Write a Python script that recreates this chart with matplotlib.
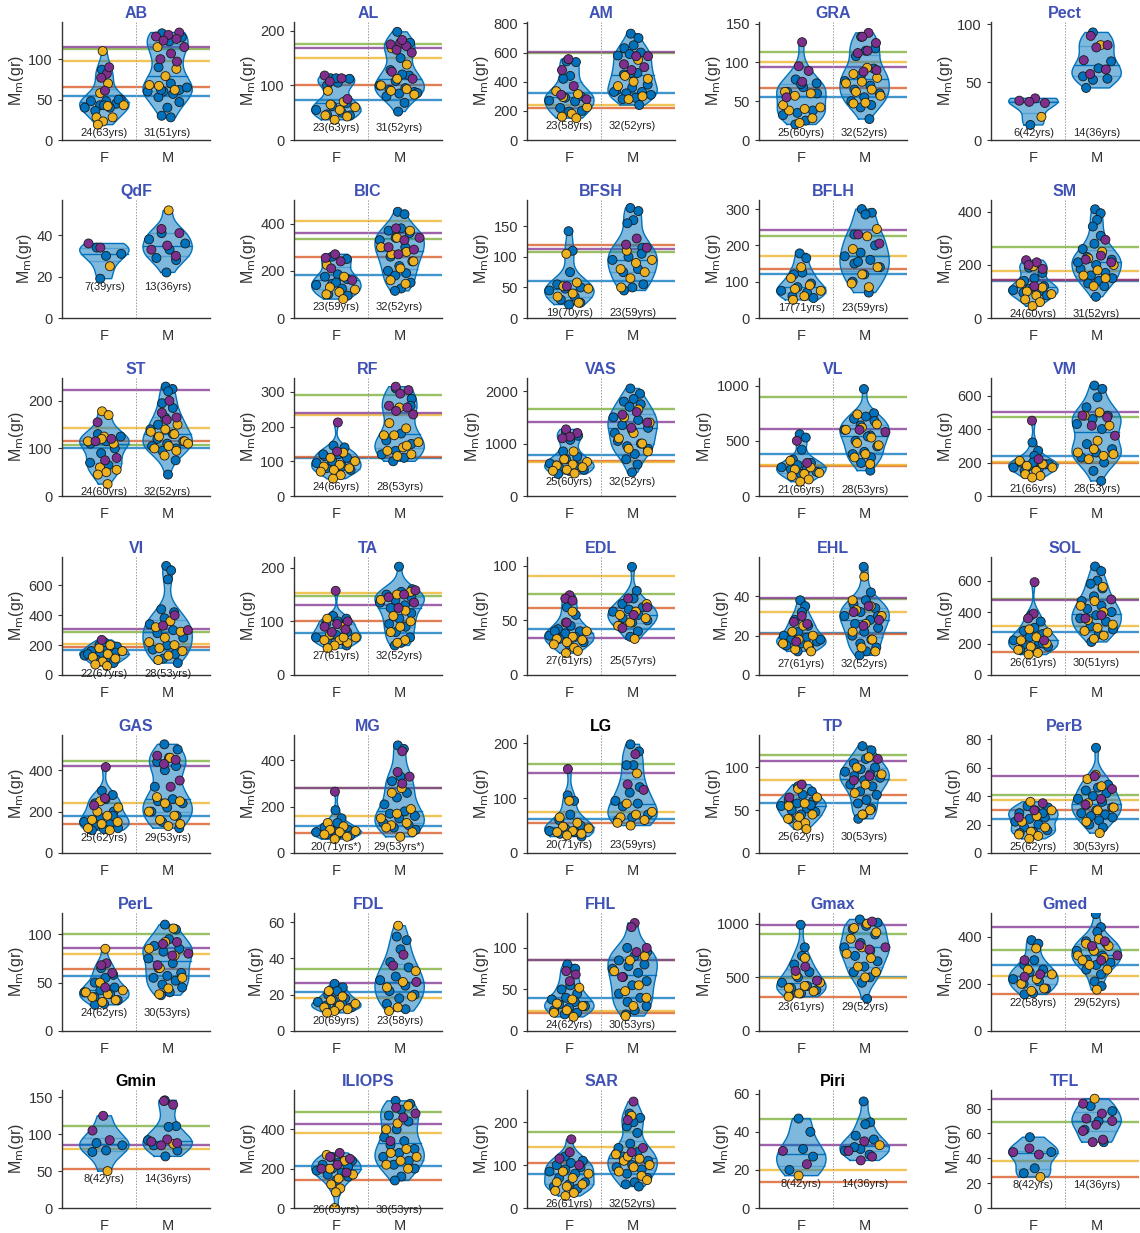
import numpy as np
import matplotlib
matplotlib.use("Agg")
import matplotlib.pyplot as plt

plt.rcParams['font.family'] = ['Liberation Sans', 'DejaVu Sans']

# ---------------- layout order ----------------
MUSCLES = ["AB", "AL", "AM", "GRA", "Pect",
           "QdF", "BIC", "BFSH", "BFLH", "SM",
           "ST", "RF", "VAS", "VL", "VM",
           "VI", "TA", "EDL", "EHL", "SOL",
           "GAS", "MG", "LG", "TP", "PerB",
           "PerL", "FDL", "FHL", "Gmax", "Gmed",
           "Gmin", "ILIOPS", "SAR", "Piri", "TFL"]
BLACK_TITLES = ["LG", "Gmin", "Piri"]
GROUPS = ["F", "M"]

YTOP = {"AB": 146, "AL": 216, "AM": 810, "GRA": 152, "Pect": 102,
        "QdF": 57, "BIC": 500, "BFSH": 193, "BFLH": 325, "SM": 445,
        "ST": 248, "RF": 340, "VAS": 2250, "VL": 1070, "VM": 705,
        "VI": 790, "TA": 220, "EDL": 108, "EHL": 60, "SOL": 750,
        "GAS": 570, "MG": 510, "LG": 215, "TP": 138, "PerB": 83,
        "PerL": 122, "FDL": 65, "FHL": 142, "Gmax": 1100, "Gmed": 500,
        "Gmin": 160, "ILIOPS": 600, "SAR": 275, "Piri": 62, "TFL": 95}

YTICKS = {"AB": [0, 50, 100], "AL": [0, 100, 200], "AM": [0, 200, 400, 600, 800],
          "GRA": [0, 50, 100, 150], "Pect": [0, 50, 100],
          "QdF": [0, 20, 40], "BIC": [0, 200, 400], "BFSH": [0, 50, 100, 150],
          "BFLH": [0, 100, 200, 300], "SM": [0, 200, 400],
          "ST": [0, 100, 200], "RF": [0, 100, 200, 300], "VAS": [0, 1000, 2000],
          "VL": [0, 500, 1000], "VM": [0, 200, 400, 600],
          "VI": [0, 200, 400, 600], "TA": [0, 100, 200], "EDL": [0, 50, 100],
          "EHL": [0, 20, 40], "SOL": [0, 200, 400, 600],
          "GAS": [0, 200, 400], "MG": [0, 200, 400], "LG": [0, 100, 200],
          "TP": [0, 50, 100], "PerB": [0, 20, 40, 60, 80],
          "PerL": [0, 50, 100], "FDL": [0, 20, 40, 60], "FHL": [0, 50, 100],
          "Gmax": [0, 500, 1000], "Gmed": [0, 200, 400],
          "Gmin": [0, 50, 100, 150], "ILIOPS": [0, 200, 400], "SAR": [0, 100, 200],
          "Piri": [0, 20, 40, 60], "TFL": [0, 20, 40, 60, 80]}

COUNT_LABELS = {
    "AB": ("24(63yrs)", "31(51yrs)"), "AL": ("23(63yrs)", "31(52yrs)"),
    "AM": ("23(58yrs)", "32(52yrs)"), "GRA": ("25(60yrs)", "32(52yrs)"),
    "Pect": ("6(42yrs)", "14(36yrs)"),
    "QdF": ("7(39yrs)", "13(36yrs)"), "BIC": ("23(59yrs)", "32(52yrs)"),
    "BFSH": ("19(70yrs)", "23(59yrs)"), "BFLH": ("17(71yrs)", "23(59yrs)"),
    "SM": ("24(60yrs)", "31(52yrs)"),
    "ST": ("24(60yrs)", "32(52yrs)"), "RF": ("24(66yrs)", "28(53yrs)"),
    "VAS": ("25(60yrs)", "32(52yrs)"), "VL": ("21(66yrs)", "28(53yrs)"),
    "VM": ("21(66yrs)", "28(53yrs)"),
    "VI": ("22(67yrs)", "28(53yrs)"), "TA": ("27(61yrs)", "32(52yrs)"),
    "EDL": ("27(61yrs)", "25(57yrs)"), "EHL": ("27(61yrs)", "32(52yrs)"),
    "SOL": ("26(61yrs)", "30(51yrs)"),
    "GAS": ("25(62yrs)", "29(53yrs)"), "MG": ("20(71yrs*)", "29(53yrs*)"),
    "LG": ("20(71yrs)", "23(59yrs)"), "TP": ("25(62yrs)", "30(53yrs)"),
    "PerB": ("25(62yrs)", "30(53yrs)"),
    "PerL": ("24(62yrs)", "30(53yrs)"), "FDL": ("20(69yrs)", "23(58yrs)"),
    "FHL": ("24(62yrs)", "30(53yrs)"), "Gmax": ("23(61yrs)", "29(52yrs)"),
    "Gmed": ("22(58yrs)", "29(52yrs)"),
    "Gmin": ("8(42yrs)", "14(36yrs)"), "ILIOPS": ("26(63yrs)", "30(53yrs)"),
    "SAR": ("26(61yrs)", "32(52yrs)"), "Piri": ("8(42yrs)", "14(36yrs)"),
    "TFL": ("8(42yrs)", "14(36yrs)")}

# reference lines: [blue, red, yellow, green, purple]
REF_LINES = {
    "AB": [54, 66, 98, 113, 115], "AL": [74, 100, 150, 175, 169],
    "AM": [320, 220, 240, 598, 605], "GRA": [55, 67, 100, 113, 94],
    "Pect": [None] * 5,
    "QdF": [None] * 5, "BIC": [182, 258, 410, 335, 360],
    "BFSH": [60, 120, None, 108, 113], "BFLH": [120, 135, 170, 225, 243],
    "SM": [140, 145, 178, 268, 142],
    "ST": [100, 115, 142, 108, 222], "RF": [110, 113, 232, 292, 238],
    "VAS": [790, 670, 650, 1660, 1420], "VL": [380, 275, 280, 900, 610],
    "VM": [240, 198, 202, 470, 500],
    "VI": [170, 185, 205, 290, 310], "TA": [79, 101, 153, 147, 130],
    "EDL": [42, 61, 91, 74, 34], "EHL": [21.5, 21, 32, 38.5, 39],
    "SOL": [275, 145, 310, 480, 478],
    "GAS": [178, 142, 240, 443, 420], "MG": [115, 85, 160, 280, 279],
    "LG": [62, 54, 75, 163, 145], "TP": [59, 68, 85, 115, 108],
    "PerB": [24, 30, 37, 41, 54],
    "PerL": [57, 64, 80, 100, 86], "FDL": [21.5, None, 18, 34, 26.5],
    "FHL": [40, 22, 24, 85, 86], "Gmax": [500, 320, 490, 905, 990],
    "Gmed": [278, 155, 232, 345, 440],
    "Gmin": [None, 53, 80, 111, 86], "ILIOPS": [215, 140, 380, 490, 425],
    "SAR": [80, 105, 142, 178, None], "Piri": [None, 13.5, 20, 47, 33],
    "TFL": [None, 25, 38, 69, 88]}

# point values per muscle and sex: (blue, orange, purple)
AB = {"F": ([87, 50, 48, 48, 45, 43, 40, 40, 36, 50, 43], [110, 70, 58, 43, 42, 28, 28, 23, 19], [82, 77, 90, 61]),
      "M": ([132, 127, 122, 90, 62, 60, 60, 57, 53, 47, 40, 30, 28, 62, 65, 70], [115, 88, 79, 68, 62, 67], [133, 130, 128, 125, 123, 115, 107, 100, 97])}
AL = {"F": ([113, 112, 105, 100, 67, 62, 55, 50, 47, 45, 113], [90, 70, 65, 60, 55, 45, 43, 37], [118, 113, 107, 75]),
      "M": ([198, 178, 150, 128, 118, 108, 100, 95, 92, 88, 85, 80, 68, 52, 86, 120], [168, 138, 112, 100, 93, 90, 83], [178, 175, 172, 165, 160, 183, 125, 112])}
AM = {"F": ([540, 535, 440, 420, 300, 290, 270, 265, 220, 200, 195], [335, 315, 295, 225, 180, 160, 150], [555, 480, 370, 310, 280]),
      "M": ([730, 700, 650, 630, 600, 590, 580, 460, 450, 380, 360, 340, 330, 320, 310, 290, 280, 240, 460, 330], [550, 440, 420, 400, 370, 300, 280], [575, 575, 520, 500, 480])}
GRA = {"F": ([78, 73, 68, 62, 38, 35, 32, 25, 20, 60, 72], [62, 60, 57, 42, 40, 38, 28, 22, 45], [126, 95, 89, 75, 55]),
       "M": ([133, 118, 115, 108, 92, 83, 76, 70, 65, 60, 55, 50, 45, 42, 27], [93, 85, 80, 75, 73, 65, 62, 57, 48, 47], [138, 133, 125, 115, 112, 90, 88])}
Pect = {"F": ([13], [20], [36, 34, 32, 33]),
        "M": ([93, 68, 62, 55, 53, 52, 45], [82], [90, 82, 80, 69, 61, 57])}
QdF = {"F": ([34, 31, 30, 19], [25], [34, 36]),
       "M": ([41, 36, 33, 29, 28, 22, 38], [52], [43, 41, 35, 33, 30])}
BIC = {"F": ([260, 250, 185, 175, 165, 145, 140, 125, 100, 95, 150], [225, 175, 130, 120, 110, 100, 80], [270, 255, 240, 210, 160]),
       "M": ([450, 440, 380, 370, 360, 340, 330, 300, 260, 240, 220, 200, 190, 180, 150, 125, 115], [370, 340, 300, 280, 270, 240, 210, 160, 145], [380, 340, 330, 300, 290, 270])}
BFSH = {"F": ([142, 110, 75, 55, 50, 48, 45, 35, 30, 25, 22], [105, 58, 52, 48, 40, 35, 25], [52]),
        "M": ([180, 175, 160, 155, 115, 100, 95, 80, 75, 55, 50, 45, 105], [110, 95, 90, 80, 75, 65, 50], [130, 120, 115])}
BFLH = {"F": ([178, 165, 125, 120, 95, 85, 75, 70, 60, 55], [140, 110, 90, 80, 75, 60, 50], []),
        "M": ([300, 290, 285, 230, 200, 180, 170, 160, 150, 140, 120, 100, 70, 155], [245, 225, 190, 140, 120, 95, 85], [230, 205])}
SM = {"F": ([190, 170, 150, 140, 120, 110, 105, 100, 95, 85], [195, 130, 115, 100, 90, 85, 70, 60, 45], [218, 210, 200, 185, 120]),
      "M": ([410, 395, 370, 345, 310, 280, 260, 240, 230, 220, 200, 185, 170, 160, 150, 140, 130, 120, 80, 210], [250, 225, 200, 180, 160, 150, 120], [295, 235, 220, 210])}
ST = {"F": ([130, 125, 115, 110, 100, 90, 70, 65], [178, 170, 125, 115, 110, 60, 55, 50, 45, 25, 120], [155, 120, 115, 80, 75]),
      "M": ([230, 225, 220, 195, 185, 165, 140, 130, 120, 115, 110, 105, 100, 95, 75, 45, 150], [150, 140, 135, 130, 125, 115, 105, 100, 95, 85, 110], [200, 175, 165, 160])}
RF = {"F": ([145, 140, 120, 115, 110, 100, 95, 85, 80, 75, 65, 120], [125, 110, 100, 90, 85, 80, 75, 70, 60, 50], [212, 128]),
      "M": ([310, 280, 180, 160, 150, 130, 120, 110, 100, 260], [255, 210, 195, 175, 155, 140, 130, 120, 115, 175, 145], [315, 305, 295, 260, 255, 245, 235])}
VAS = {"F": ([1230, 1150, 1070, 850, 750, 700, 620, 580, 550, 500, 480, 420], [850, 700, 650, 600, 580, 550, 500, 480, 430], [1270, 1200, 1130, 1100]),
       "M": ([2050, 1950, 1850, 1800, 1750, 1700, 1500, 1450, 1350, 1300, 1250, 1050, 1000, 950, 900, 800, 700, 600, 450, 1200], [1650, 1500, 1400, 1200, 1100, 1000, 900, 850], [1600, 1550, 1400, 1300])}
VL = {"F": ([560, 530, 420, 330, 300, 280, 260, 250, 240, 220, 200], [320, 260, 240, 210, 200, 180, 150, 130], [500, 300]),
      "M": ([970, 750, 720, 700, 680, 640, 600, 550, 500, 450, 400, 380, 350, 300, 230, 540], [740, 650, 620, 600, 530, 480, 460, 380, 350, 290], [600, 580])}
VM = {"F": ([320, 270, 240, 200, 190, 180, 170, 160, 150, 190, 200], [210, 190, 180, 170, 150, 130, 120, 110], [450, 220]),
      "M": ([660, 640, 590, 530, 480, 460, 430, 400, 310, 280, 260, 230, 200, 150, 90], [500, 480, 420, 280, 260, 240, 220, 250, 330], [480, 470, 420, 360])}
VI = {"F": ([200, 190, 170, 160, 150, 140, 130, 120, 100, 80, 220, 140], [200, 180, 160, 140, 120, 110, 90, 70, 60], [235]),
      "M": ([730, 700, 640, 440, 420, 380, 340, 300, 280, 250, 200, 170, 140, 110, 80], [360, 320, 290, 250, 220, 200, 180, 160, 130, 100], [400, 330, 300])}
TA = {"F": ([110, 105, 100, 95, 80, 75, 70, 65, 60, 55, 75], [105, 90, 75, 70, 65, 65, 60, 55, 50, 70], [157, 100, 95, 90, 85, 80]),
      "M": ([202, 160, 155, 150, 145, 140, 135, 130, 125, 115, 105, 95, 90, 80, 70, 60, 55], [155, 150, 140, 120, 110, 100, 90, 80, 65, 60], [158, 150, 145, 135, 125])}
EDL = {"F": ([62, 55, 45, 42, 40, 38, 36, 35, 33, 30, 28, 40], [58, 48, 40, 35, 33, 32, 30, 28, 25, 20, 22], [73, 70, 68, 48]),
       "M": ([99, 77, 70, 65, 62, 60, 58, 55, 52, 50, 48, 45, 40, 35], [65, 58, 55, 52, 48, 45, 33], [70, 62, 55, 43])}
EHL = {"F": ([38, 35, 32, 28, 25, 22, 20, 19, 18, 17, 16, 15, 14, 12, 18], [25, 22, 20, 18, 16, 15, 13, 12], [30, 27, 26, 17]),
       "M": ([55, 42, 38, 36, 34, 32, 30, 28, 26, 24, 22, 20, 18, 16, 14, 12, 10, 30], [50, 38, 35, 33, 30, 26, 22, 18, 14, 12], [35, 32, 28, 25])}
SOL = {"F": ([380, 340, 300, 280, 260, 240, 220, 200, 190, 180, 170, 160, 200], [290, 270, 240, 220, 200, 180, 160, 140, 130], [590, 390, 360, 220]),
       "M": ([690, 660, 600, 580, 550, 500, 470, 440, 420, 400, 380, 360, 340, 310, 290, 260, 210], [560, 470, 440, 400, 350, 320, 300, 280, 250, 230], [480, 380, 360])}
GAS = {"F": ([300, 280, 260, 240, 200, 170, 150, 140, 130, 120, 115, 110, 180], [250, 220, 180, 160, 150, 140, 120, 110, 200], [415, 265, 230]),
       "M": ([525, 500, 460, 440, 420, 400, 320, 260, 250, 240, 220, 200, 180, 150, 120], [460, 270, 250, 240, 200, 180, 160, 140, 130], [470, 450, 430, 350, 320])}
MG = {"F": ([185, 150, 130, 110, 100, 95, 90, 85, 80, 75, 70], [130, 115, 100, 95, 90, 80, 70, 60], [265]),
      "M": ([465, 450, 330, 310, 260, 240, 210, 180, 170, 160, 150, 130, 120, 110, 100], [280, 260, 190, 170, 150, 130, 120, 90, 70, 110], [440, 350, 330, 300])}
LG = {"F": ([105, 95, 70, 60, 50, 45, 40, 38, 35, 30], [95, 65, 55, 48, 45, 40, 38, 35, 32], [153]),
      "M": ([198, 185, 160, 160, 120, 110, 95, 90, 85, 70, 65, 60], [145, 90, 75, 70, 65, 60, 50, 55], [180, 125, 115])}
TP = {"F": ([78, 72, 68, 62, 60, 58, 55, 52, 50, 48, 45, 40, 56], [75, 65, 58, 55, 45, 42, 40, 35, 32, 28], [80, 65]),
      "M": ([125, 120, 110, 105, 100, 98, 95, 92, 90, 88, 85, 80, 78, 72, 68, 62, 58, 52, 45, 40], [112, 100, 92, 80, 70, 50, 45], [110, 90, 85])}
PerB = {"F": ([33, 32, 30, 28, 25, 24, 22, 20, 18, 16, 15, 14, 28], [36, 30, 26, 22, 18, 15, 13, 12, 10], [35, 30, 25]),
        "M": ([74, 48, 46, 44, 42, 40, 38, 36, 34, 32, 30, 28, 27, 26, 25, 23, 20, 18], [55, 52, 47, 35, 32, 30, 22, 14], [54, 45, 38, 34])}
PerL = {"F": ([65, 58, 55, 50, 45, 42, 40, 38, 35, 32, 28, 27], [85, 50, 42, 38, 35, 32, 30, 40], [70, 68, 60, 45]),
        "M": ([110, 105, 95, 88, 85, 82, 75, 70, 65, 60, 57, 55, 52, 48, 45, 40, 37], [106, 92, 85, 78, 65, 55, 44, 38], [92, 90, 80, 78, 68])}
FDL = {"F": ([26, 24, 22, 20, 18, 17, 16, 15, 14, 13, 12], [22, 19, 17, 15, 14, 13, 12, 11, 10], []),
       "M": ([52, 50, 45, 38, 35, 30, 28, 25, 22, 20, 18, 15, 12], [58, 33, 27, 24, 19, 13, 11], [42, 36, 27])}
FHL = {"F": ([80, 75, 55, 50, 45, 40, 38, 35, 32, 30, 28, 25, 22, 20], [52, 38, 33, 30, 25, 22, 17], [72, 68, 60]),
       "M": ([100, 95, 90, 85, 80, 78, 75, 70, 65, 60, 55, 45, 40, 35, 30, 25, 20], [90, 85, 72, 55, 48, 40, 30, 18], [130, 125, 100, 95, 65])}
Gmax = {"F": ([990, 780, 700, 620, 550, 500, 450, 420, 400, 380, 350, 330], [680, 520, 450, 420, 400, 370, 350, 320], [600, 560, 470]),
        "M": ([1040, 1010, 980, 950, 900, 820, 780, 750, 700, 650, 600, 550, 500, 450, 300], [1000, 960, 920, 780, 720, 680, 600, 550, 500, 860], [1020, 800, 780, 760])}
Gmed = {"F": ([385, 370, 300, 280, 260, 250, 220, 210, 200, 180, 160, 155], [350, 260, 240, 220, 200, 180, 170], [300, 240, 230]),
        "M": ([495, 440, 420, 380, 370, 350, 340, 320, 300, 290, 280, 260, 240, 210, 190], [390, 370, 360, 340, 320, 310, 280, 260, 175, 300], [380, 360, 320, 300])}
Gmin = {"F": ([88, 85, 78, 76], [50], [125, 105, 92]),
        "M": ([146, 111, 110, 85, 78, 70, 92], [87], [145, 140, 93, 90, 88, 85])}
ILIOPS = {"F": ([260, 240, 230, 220, 210, 200, 190, 180, 170, 160, 140], [270, 240, 200, 170, 150, 120, 100, 80, 0], [280, 260, 250, 220, 200, 180]),
          "M": ([545, 530, 500, 470, 440, 400, 360, 340, 320, 300, 280, 260, 240, 220, 200, 160, 140], [520, 430, 400, 300, 280, 260, 240, 220, 200], [510, 480, 460, 340])}
SAR = {"F": ([120, 110, 105, 100, 95, 90, 85, 80, 70, 60, 55, 50, 45], [85, 80, 70, 60, 55, 50, 40, 35, 28], [160, 130, 115, 100]),
       "M": ([220, 210, 200, 190, 175, 150, 140, 130, 120, 110, 100, 95, 90, 80, 70, 60, 55, 50], [215, 125, 115, 110, 100, 95, 85, 75, 120, 65], [248, 205, 140, 130])}
Piri = {"F": ([47, 40, 31, 20, 27], [17], [30, 23]),
        "M": ([56, 45, 44, 38, 36, 31, 30, 28, 32], [33], [35, 30, 27, 25])}
TFL = {"F": ([57, 45, 32, 28], [25], [48, 45, 43]),
       "M": ([82, 78, 70, 63, 53], [88], [84, 76, 72, 70, 67, 62, 55, 53])}

POINTS = {"AB": AB, "AL": AL, "AM": AM, "GRA": GRA, "Pect": Pect,
          "QdF": QdF, "BIC": BIC, "BFSH": BFSH, "BFLH": BFLH, "SM": SM,
          "ST": ST, "RF": RF, "VAS": VAS, "VL": VL, "VM": VM,
          "VI": VI, "TA": TA, "EDL": EDL, "EHL": EHL, "SOL": SOL,
          "GAS": GAS, "MG": MG, "LG": LG, "TP": TP, "PerB": PerB,
          "PerL": PerL, "FDL": FDL, "FHL": FHL, "Gmax": Gmax, "Gmed": Gmed,
          "Gmin": Gmin, "ILIOPS": ILIOPS, "SAR": SAR, "Piri": Piri, "TFL": TFL}

# ---------------- styles ----------------
C_BLUE = "#0072BD"
C_RED = "#D95319"
C_YEL = "#EDB120"
C_GRN = "#77AC30"
C_PUR = "#7E2F8E"
LINE_COLORS = [C_BLUE, C_RED, C_YEL, C_GRN, C_PUR]
TITLE_BLUE = "#3F51B5"

W_PX, H_PX = 1140, 1233
fig = plt.figure(figsize=(W_PX / 100, H_PX / 100), dpi=100)

COL_LEFT = [62, 294, 527, 759, 991]
ROW_BOTTOM = [140, 318, 496, 675, 853, 1031, 1208]
AX_W, AX_H = 148, 118
HALF_W = 0.39


def kde(vals, grid):
    vals = np.asarray(vals, float)
    n = len(vals)
    sd = vals.std(ddof=1) if n > 1 else 1.0
    bw = max(0.9 * sd * n ** (-1 / 5), 1e-6)
    d = np.exp(-0.5 * ((grid[:, None] - vals[None, :]) / bw) ** 2).sum(axis=1)
    return d


for idx, name in enumerate(MUSCLES):
    r, c = divmod(idx, 5)
    left = COL_LEFT[c] / W_PX
    bottom = 1 - ROW_BOTTOM[r] / H_PX
    ax = fig.add_axes([left, bottom, AX_W / W_PX, AX_H / H_PX])
    ytop = YTOP[name]
    ax.set_xlim(0.33, 2.67)
    ax.set_ylim(0, ytop)

    # reference lines
    for val, col in zip(REF_LINES[name], LINE_COLORS):
        if val is not None:
            ax.axhline(val, color=col, lw=1.7, alpha=0.75, zorder=1)
    ax.axvline(1.5, color="#9a9a9a", lw=0.7, ls=(0, (1.5, 1.5)), zorder=1)

    data = POINTS[name]
    all_vals = []
    for gi, g in enumerate(GROUPS):
        xpos = gi + 1
        blue, orange, purple = data[g]
        vals = np.array(list(blue) + list(orange) + list(purple), float)
        cols = [C_BLUE] * len(blue) + [C_YEL] * len(orange) + [C_PUR] * len(purple)
        all_vals.extend(vals.tolist())
        grid = np.linspace(vals.min(), vals.max(), 200)
        dens = kde(vals, grid)
        hw = dens / dens.max() * HALF_W
        ax.fill_betweenx(grid, xpos - hw, xpos + hw, facecolor=C_BLUE, alpha=0.5,
                         edgecolor="none", zorder=2)
        ax.plot(np.r_[xpos - hw, (xpos + hw)[::-1], xpos - hw[0]],
                np.r_[grid, grid[::-1], grid[0]], color=C_BLUE, lw=1.0, zorder=2.1)
        # quartiles and median
        q1, med, q3 = np.percentile(vals, [25, 50, 75])
        for q, a in ((q1, 0.35), (q3, 0.35), (med, 1.0)):
            w = np.interp(q, grid, hw)
            ax.plot([xpos - w, xpos + w], [q, q], color=C_BLUE, lw=1.0, alpha=a, zorder=2.2)
        # points, spread inside the violin
        wpt = np.interp(vals, grid, hw)
        k = np.arange(len(vals))
        u = ((k * 0.6180339887 + 0.31) % 1.0) * 2 - 1
        xs = xpos + u * wpt * 0.85
        ax.scatter(xs, vals, s=42, c=cols, edgecolors="#1a1a1a", linewidths=0.6, zorder=3)

    ymin_all = min(all_vals)
    ylab = max(ymin_all - 0.07 * ytop, -0.015 * ytop)
    for gi, txt in enumerate(COUNT_LABELS[name]):
        ax.text(gi + 1, ylab, txt, ha="center", va="center", fontsize=8,
                color="#222222", zorder=4, clip_on=False)

    ax.set_xticks([1, 2])
    ax.set_xticklabels(GROUPS, fontsize=10.5, color="#333333")
    ax.set_yticks(YTICKS[name])
    ax.tick_params(axis="y", labelsize=10.5, colors="#333333", length=3, width=0.8)
    ax.tick_params(axis="x", length=0, pad=8)
    for s in ("top", "right"):
        ax.spines[s].set_visible(False)
    for s in ("left", "bottom"):
        ax.spines[s].set_color("#333333")
        ax.spines[s].set_linewidth(1.0)
    ax.set_ylabel(r"M$_{\rm m}$(gr)", fontsize=11.5, color="#333333", labelpad=2)
    tcol = "black" if name in BLACK_TITLES else TITLE_BLUE
    ax.set_title(name, fontsize=11.5, fontweight="bold", color=tcol, pad=3)

fig.savefig("out.png", dpi=100)
